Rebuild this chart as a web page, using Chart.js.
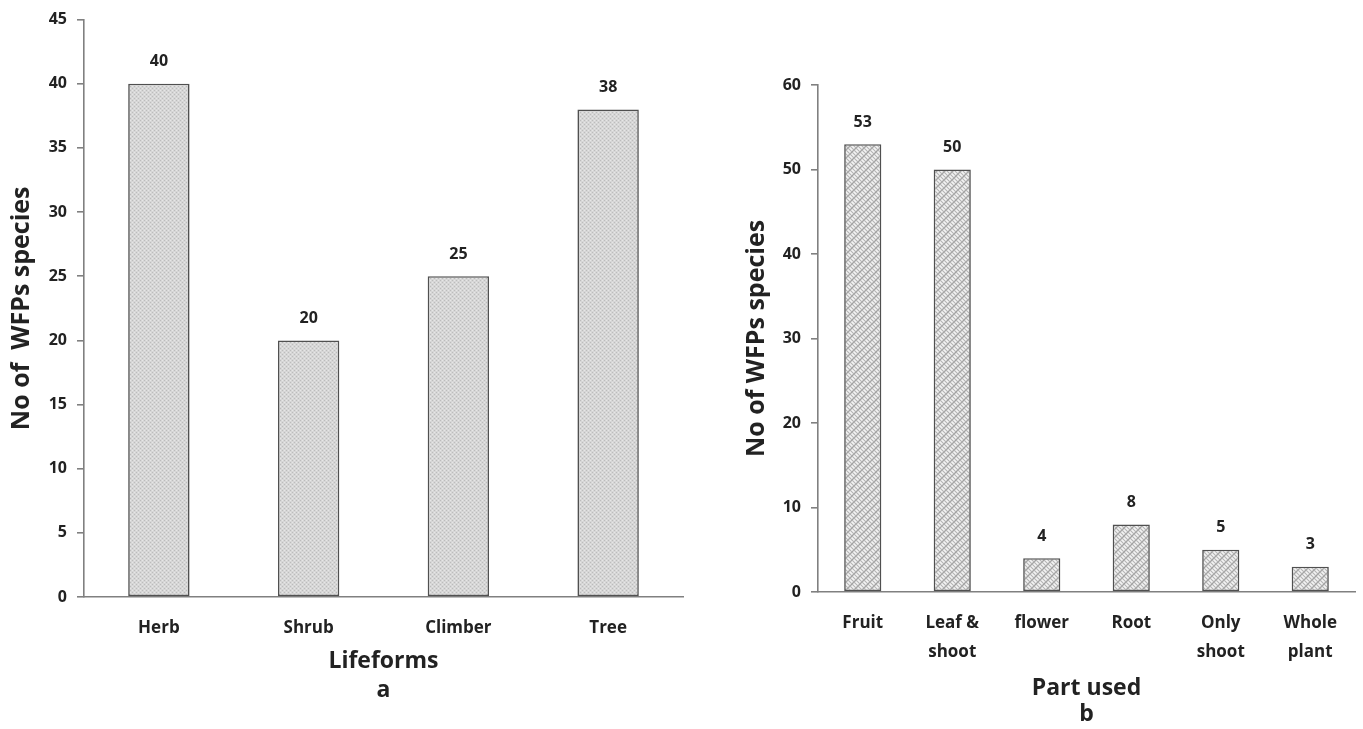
<!DOCTYPE html>
<html>
<head>
<meta charset="utf-8">
<script src="https://cdn.jsdelivr.net/npm/chart.js@4"></script>
<style>
  html, body { margin: 0; padding: 0; background: #fff; width: 1363px; height: 729px; overflow: hidden; }
  #wrapA { position: absolute; left: 0; top: 0; width: 700px; height: 729px; }
  #wrapB { position: absolute; left: 700px; top: 0; width: 663px; height: 729px; }
</style>
</head>
<body>
<div id="wrapA"><canvas id="chartA"></canvas></div>
<div id="wrapB"><canvas id="chartB"></canvas></div>
<script>
// ---- Data ----
const lifeformCategories = ["Herb", "Shrub", "Climber", "Tree"];
const lifeformValues = [40, 20, 25, 38];
const lifeformTicks = { min: 0, max: 45, step: 5 };

const partCategories = ["Fruit", ["Leaf &", "shoot"], "flower", "Root", ["Only", "shoot"], ["Whole", "plant"]];
const partValues = [53, 50, 4, 8, 5, 3];
const partTicks = { min: 0, max: 60, step: 10 };

const yTitle = "No of  WFPs species";
const yTitleB = "No of WFPs species";
const xTitleA = ["Lifeforms", "a"];
const xTitleB = ["Part used", "b"];

// ---- Patterns ----
function dotPattern() {
  const c = document.createElement('canvas');
  c.width = 4; c.height = 4;
  const g = c.getContext('2d');
  g.fillStyle = '#d6d6d6'; g.fillRect(0, 0, 4, 4);
  g.fillStyle = '#bcbcbc';
  g.fillRect(0, 0, 1, 1); g.fillRect(2, 2, 1, 1);
  g.fillStyle = '#e6e6e6';
  g.fillRect(2, 0, 1, 1); g.fillRect(0, 2, 1, 1);
  return g.createPattern(c, 'repeat');
}
function hatchPattern() {
  const s = 8;
  const c = document.createElement('canvas');
  c.width = s; c.height = s;
  const g = c.getContext('2d');
  g.fillStyle = '#f3f3f3'; g.fillRect(0, 0, s, s);
  g.strokeStyle = '#a0a0a0'; g.lineWidth = 1.3;
  g.beginPath();
  g.moveTo(-1, s + 1); g.lineTo(s + 1, -1);
  g.moveTo(-1, 1); g.lineTo(1, -1);
  g.moveTo(s - 1, s + 1); g.lineTo(s + 1, s - 1);
  g.stroke();
  g.strokeStyle = '#b4b4b4'; g.lineWidth = 1.1;
  g.beginPath();
  g.moveTo(-1, -1); g.lineTo(s + 1, s + 1);
  g.moveTo(s / 2 - 1, -1); g.lineTo(s + 1, s / 2 + 1);
  g.moveTo(-1, s / 2 - 1); g.lineTo(s / 2 + 1, s + 1);
  g.stroke();
  return g.createPattern(c, 'repeat');
}

const valueLabels = {
  id: 'valueLabels',
  afterDatasetsDraw(chart) {
    const ctx = chart.ctx;
    const meta = chart.getDatasetMeta(0);
    const data = chart.data.datasets[0].data;
    ctx.save();
    ctx.font = 'bold 16px "Open Sans"';
    ctx.fillStyle = '#222';
    ctx.textAlign = 'center';
    ctx.textBaseline = 'middle';
    meta.data.forEach((bar, i) => {
      ctx.fillText(String(data[i]), bar.x, bar.y - 22);
    });
    ctx.restore();
  }
};

const axisColor = '#808080';
const textColor = '#222';

function makeChart(id, cats, vals, ticks, pattern, cfg) {
  return new Chart(document.getElementById(id), {
    type: 'bar',
    data: {
      labels: cats,
      datasets: [{
        data: vals,
        backgroundColor: pattern,
        borderColor: '#505050',
        borderWidth: 1.6,
        borderSkipped: false,
        categoryPercentage: 1,
        barPercentage: cfg.barPct
      }]
    },
    options: {
      responsive: true,
      maintainAspectRatio: false,
      animation: false,
      devicePixelRatio: 1,
      layout: { padding: { top: cfg.top, right: cfg.right, left: 0, bottom: 0 } },
      plugins: { legend: { display: false }, tooltip: { enabled: false } },
      scales: {
        x: {
          grid: { display: false, drawTicks: false },
          border: { display: true, color: axisColor, width: 1.6 },
          ticks: {
            color: textColor,
            font: { family: 'Open Sans', size: cfg.xTickSize, weight: 'bold', lineHeight: cfg.xTickLH },
            padding: cfg.xTickPad,
            maxRotation: 0, autoSkip: false
          },
          title: {
            display: true, text: cfg.xTitle, color: textColor,
            font: { family: 'Open Sans', size: 23, weight: 'bold', lineHeight: cfg.xTitleLH },
            padding: { top: 0, bottom: cfg.xTitlePadB }
          },
          afterFit(scale) { scale.height = cfg.xHeight; }
        },
        y: {
          min: ticks.min, max: ticks.max,
          grid: { drawOnChartArea: false, drawTicks: true, tickLength: 7, color: axisColor, lineWidth: 1.6 },
          border: { display: true, color: axisColor, width: 1.6 },
          ticks: {
            stepSize: ticks.step, color: textColor, padding: 10,
            font: { family: 'Open Sans', size: 16, weight: 'bold' }
          },
          title: {
            display: true, text: cfg.yTitle, color: textColor,
            font: { family: 'Open Sans', size: cfg.yTitleSize, weight: 'bold', lineHeight: 1.2 },
            padding: { top: cfg.yTitlePad, bottom: 0 }
          },
          afterFit(scale) { scale.width = cfg.yWidth; }
        }
      }
    },
    plugins: [valueLabels]
  });
}

makeChart('chartA', lifeformCategories, lifeformValues, lifeformTicks, dotPattern(), {
  barPct: 0.41, top: 19, right: 17, yWidth: 84, xHeight: 132,
  xTickSize: 17, xTickLH: 1.2, xTickPad: 21,
  xTitle: xTitleA, xTitleLH: 1.22, xTitlePadB: 25,
  yTitle: yTitle, yTitleSize: 25, yTitlePad: 7
});
makeChart('chartB', partCategories, partValues, partTicks, hatchPattern(), {
  barPct: 0.415, top: 85, right: 8, yWidth: 118, xHeight: 137,
  xTickSize: 17, xTickLH: 1.7, xTickPad: 17,
  xTitle: xTitleB, xTitleLH: 1.13, xTitlePadB: 2,
  yTitle: yTitleB, yTitleSize: 25, yTitlePad: 42
});
</script>
</body>
</html>
